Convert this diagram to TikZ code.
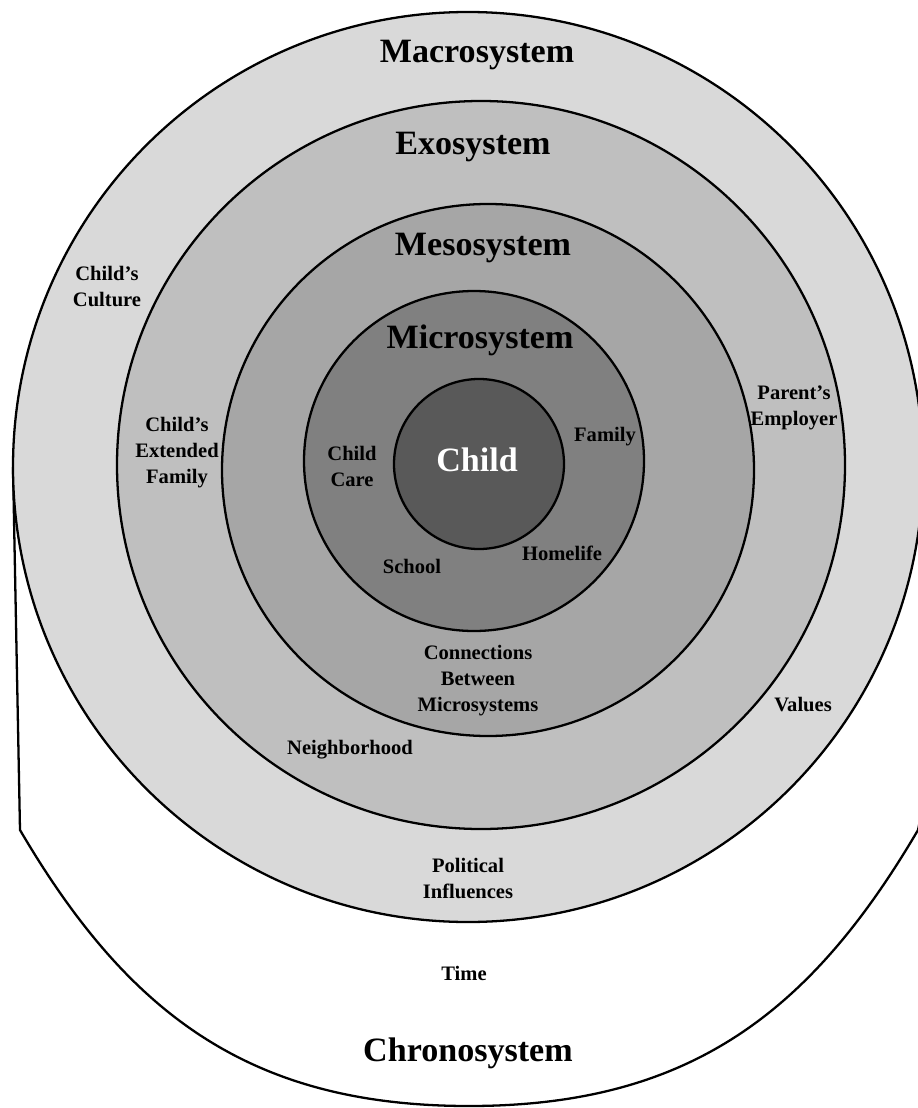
\documentclass[tikz,border=0pt]{standalone}
\usepackage{fontspec}
\setmainfont{Liberation Serif}
\usetikzlibrary{positioning}
\definecolor{macrogray}{gray}{0.85}
\definecolor{exogray}{gray}{0.75}
\definecolor{mesogray}{gray}{0.65}
\definecolor{microgray}{gray}{0.5}
\definecolor{childgray}{gray}{0.35}

\begin{document}
\begin{tikzpicture}[
  x=0.02cm, y=-0.02cm,
  ring/.style={draw=black, line width=1.3pt},
  sysname/.style={font=\fontsize{19.4}{22}\selectfont\bfseries, inner sep=0pt},
  item/.style={font=\fontsize{11.7}{14.8}\selectfont\bfseries, align=center, inner sep=0pt}
]
\useasboundingbox (0,0) rectangle (918,1108);
\clip (0,0) rectangle (918,1108);

% chronosystem outline
\draw[ring] (13,467) -- (20,830) .. controls (128,1014) and (250,1106) .. (469,1106)
  .. controls (688,1106) and (810,1014) .. (918,830) -- (945,700);

% rings, outside in
\filldraw[ring, fill=macrogray] (468,467) circle[radius=455];
\filldraw[ring, fill=exogray] (481,465) circle[radius=364];
\filldraw[ring, fill=mesogray] (488,470) circle[radius=266];
\filldraw[ring, fill=microgray] (474,461) circle[radius=170];
\filldraw[ring, fill=childgray] (479,464) circle[radius=85];

% system names
\node[sysname] (macro) at (477,55) {Macrosystem};
\node[sysname] (exo) at (473,147) {Exosystem};
\node[sysname] (meso) at (483,248) {Mesosystem};
\node[sysname] (micro) at (480,340) {Microsystem};
\node[sysname, text=white] (child) at (477,460) {Child};
\node[sysname] (chrono) at (468,1053) {Chronosystem};

% what sits in each system
\node[item] (care) at (352,466) {Child\\Care};
\node[item] (family) at (605,437) {Family};
\node[item] (home) at (562,553) {Homelife};
\node[item] (school) at (412,566) {School};
\node[item] (conn) at (478,681) {Connections\\Between\\Microsystems};
\node[item] (hood) at (350,750) {Neighborhood};
\node[item] (extfam) at (177,453) {Child’s\\Extended\\Family};
\node[item] (employer) at (794,408) {Parent’s\\Employer};
\node[item] (culture) at (107,286) {Child’s\\Culture};
\node[item] (values) at (803,705) {Values};
\node[item] (politics) at (468,878) {Political\\Influences};
\node[item] (time) at (464,973) {Time};
\end{tikzpicture}
\end{document}
